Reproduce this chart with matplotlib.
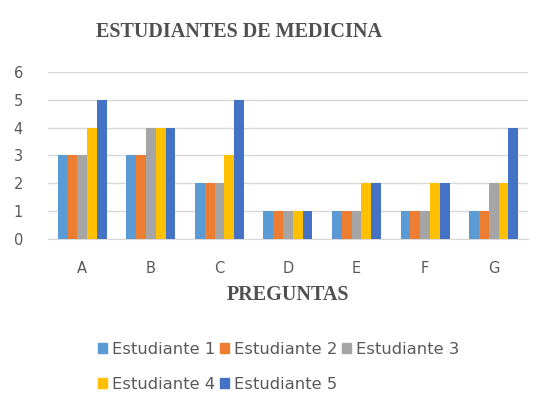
import numpy as np
import matplotlib
matplotlib.use("Agg")
import matplotlib.pyplot as plt
from matplotlib.patches import Patch

# --- datos ---
preguntas = ["A", "B", "C", "D", "E", "F", "G"]
estudiantes = ["Estudiante 1", "Estudiante 2", "Estudiante 3", "Estudiante 4", "Estudiante 5"]
est1 = [3, 3, 2, 1, 1, 1, 1]
est2 = [3, 3, 2, 1, 1, 1, 1]
est3 = [3, 4, 2, 1, 1, 1, 2]
est4 = [4, 4, 3, 1, 2, 2, 2]
est5 = [5, 4, 5, 1, 2, 2, 4]
colores = ["#5B9BD5", "#ED7D31", "#A5A5A5", "#FFC000", "#4472C4"]

series = [est1, est2, est3, est4, est5]

fig = plt.figure(figsize=(5.42, 4.11), dpi=100)
ax = fig.add_axes([0.0886, 0.4185, 0.8854, 0.4065])

x = np.arange(len(preguntas))
w = 0.143
for i, (vals, col) in enumerate(zip(series, colores)):
    ax.bar(x + (i - 2) * w, vals, width=w, color=col, zorder=3)

ax.set_xlim(-0.5, 6.5)
ax.set_ylim(0, 6)
ax.set_yticks(range(7))
ax.set_xticks(x)
ax.set_xticklabels(preguntas)
ax.grid(axis="y", color="#D9D9D9", linewidth=1, zorder=0)
for s in ["top", "right", "left"]:
    ax.spines[s].set_visible(False)
ax.spines["bottom"].set_color("#D9D9D9")
ax.tick_params(axis="both", length=0, labelsize=10.5, colors="#595959")
ax.tick_params(axis="x", pad=16)
ax.tick_params(axis="y", pad=18)

fig.text(0.441, 0.922, "ESTUDIANTES DE MEDICINA", ha="center", va="center",
         family="Liberation Serif", fontweight="bold", fontsize=14.5, color="#505050")
fig.text(0.531, 0.283, "PREGUNTAS", ha="center", va="center",
         family="Liberation Serif", fontweight="bold", fontsize=14.5, color="#505050")

# orden para que la leyenda se lea por filas
orden = [0, 3, 1, 4, 2]
handles = [Patch(color=colores[i]) for i in orden]
labels = [estudiantes[i] for i in orden]
leg = fig.legend(handles, labels, loc="upper left", bbox_to_anchor=(0.168, 0.185),
                 ncol=3, frameon=False, fontsize=11.8, handlelength=0.55, handleheight=0.55,
                 handletextpad=0.3, columnspacing=0.3, labelspacing=1.25,
                 labelcolor="#595959", borderaxespad=0)

fig.savefig("out.png", dpi=100)
